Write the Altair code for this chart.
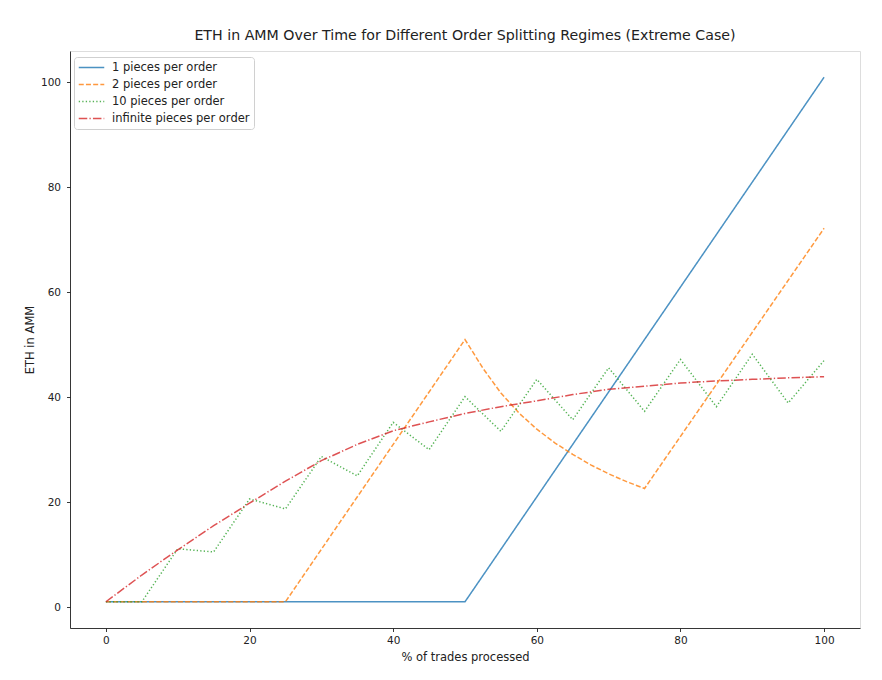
import altair as alt
import pandas as pd

series_names = ["1 pieces per order", "2 pieces per order", "10 pieces per order", "infinite pieces per order"]
colors = ["#1f77b4", "#ff7f0e", "#2ca02c", "#d62728"]
dashes = [[1, 0], [5, 2.2], [1.3, 2.2], [8.5, 2.2, 1.3, 2.2]]

# 1 piece per order
x1 = [0, 50, 100]
y1 = [1, 1, 101]

# 2 pieces per order
x2 = [0, 25, 50, 52.5, 55, 57.5, 60, 62.5, 65, 67.5, 70, 72.5, 75, 100]
y2 = [1, 1, 51, 45.5, 40.8, 37.0, 33.9, 31.3, 29.1, 27.1, 25.4, 23.9, 22.6, 72.2]

# 10 pieces per order
x10 = [0, 5, 10, 15, 20, 25, 30, 35, 40, 45, 50, 55, 60, 65, 70, 75, 80, 85, 90, 95, 100]
y10 = [1, 1, 11.1, 10.5, 20.6, 18.7, 28.7, 25.0, 35.2, 30.0, 40.1, 33.5, 43.4, 35.7, 45.6, 37.3, 47.2, 38.2, 48.2, 38.9, 47.0]

# infinite pieces per order
xinf = [0, 5, 10, 15, 20, 25, 30, 35, 40, 45, 50, 55, 60, 65, 70, 75, 80, 85, 90, 95, 100]
yinf = [1, 6.1, 10.9, 15.5, 19.8, 24.0, 27.9, 31.0, 33.6, 35.3, 36.9, 38.2, 39.3, 40.5, 41.5, 42.1, 42.7, 43.1, 43.4, 43.7, 43.9]

rows = []
for name, xs, ys in zip(series_names, [x1, x2, x10, xinf], [y1, y2, y10, yinf]):
    for i, (xv, yv) in enumerate(zip(xs, ys)):
        rows.append({"series": name, "x": xv, "y": yv, "i": i})
df = pd.DataFrame(rows)

FONT = "DejaVu Sans"
TXT = "#222"

axis_common = dict(
    grid=False, domainColor=TXT, tickColor=TXT, tickSize=3.5, domainWidth=0.9, tickWidth=0.9,
    labelFont=FONT, labelFontSize=10.5, labelColor=TXT,
    titleFont=FONT, titleFontSize=11.5, titleFontWeight="normal", titleColor=TXT,
    values=[0, 20, 40, 60, 80, 100],
)

chart = alt.Chart(df).mark_line(strokeWidth=1.5, opacity=0.8).encode(
    x=alt.X("x:Q", scale=alt.Scale(domain=[-5, 105], nice=False, zero=False),
            axis=alt.Axis(title="% of trades processed", titlePadding=5, labelPadding=4, **axis_common)),
    y=alt.Y("y:Q", scale=alt.Scale(domain=[-4, 106], nice=False, zero=False),
            axis=alt.Axis(title="ETH in AMM", titlePadding=5, labelPadding=6, **axis_common)),
    color=alt.Color("series:N", sort=series_names,
                    scale=alt.Scale(domain=series_names, range=colors),
                    legend=alt.Legend(title=None, orient="none", legendX=4, legendY=6,
                                      symbolType="stroke", symbolSize=650, symbolStrokeWidth=1.5,
                                      labelFontSize=11.5, labelFont=FONT, labelColor=TXT,
                                      strokeColor="#d0d0d0", fillColor="white", cornerRadius=3,
                                      padding=4, rowPadding=4, labelOffset=7, clipHeight=13)),
    strokeDash=alt.StrokeDash("series:N", sort=series_names,
                              scale=alt.Scale(domain=series_names, range=dashes)),
    order="i:Q",
).properties(
    width=790, height=577,
    title=alt.TitleParams("ETH in AMM Over Time for Different Order Splitting Regimes (Extreme Case)",
                          font=FONT, fontSize=14.2, fontWeight="normal", color=TXT, offset=8),
    autosize=alt.AutoSizeParams(type="none"),
    padding={"left": 70, "top": 51, "right": 22, "bottom": 52},
).configure_view(
    stroke=TXT, strokeWidth=0.9
).configure(background="white")

chart.save("out.html", embed_options={"renderer": "svg", "actions": False})
